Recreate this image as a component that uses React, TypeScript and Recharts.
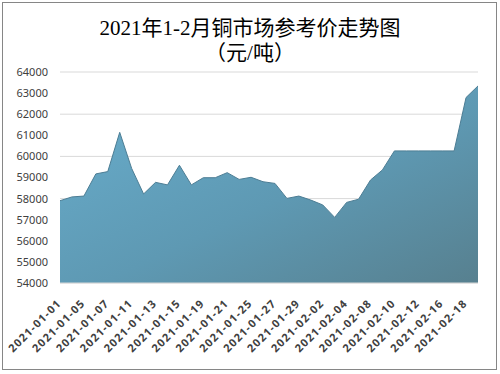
import React from 'react';
import { AreaChart, Area, XAxis, YAxis, CartesianGrid } from 'recharts';

const dates = [
  '2021-01-01', '2021-01-04', '2021-01-05', '2021-01-06', '2021-01-07', '2021-01-08',
  '2021-01-11', '2021-01-12', '2021-01-13', '2021-01-14', '2021-01-15', '2021-01-18',
  '2021-01-19', '2021-01-20', '2021-01-21', '2021-01-22', '2021-01-25', '2021-01-26',
  '2021-01-27', '2021-01-28', '2021-01-29', '2021-02-01', '2021-02-02', '2021-02-03',
  '2021-02-04', '2021-02-05', '2021-02-08', '2021-02-09', '2021-02-10', '2021-02-11',
  '2021-02-12', '2021-02-15', '2021-02-16', '2021-02-17', '2021-02-18', '2021-02-19',
];

const prices = [
  57900, 58080, 58120, 59170, 59280, 61140,
  59430, 58220, 58770, 58650, 59580, 58650,
  58990, 58990, 59230, 58910, 59010, 58800,
  58720, 58010, 58120, 57930, 57700, 57110,
  57820, 57970, 58880, 59360, 60260, 60260,
  60260, 60260, 60260, 60260, 62790, 63340,
];

const yTicks = [54000, 55000, 56000, 57000, 58000, 59000, 60000, 61000, 62000, 63000, 64000];

const data = dates.map((date, i) => ({ date, price: prices[i] }));

// rotated date labels, right end sits just under the tick
const DateTick = ({ x, y, payload }: any) => (
  <g transform={`translate(${x + 2},${y + 13})`}>
    <text
      x={0}
      y={0}
      textAnchor="end"
      transform="rotate(-45)"
      fontSize={11}
      fontWeight="bold"
      letterSpacing={1.2}
      fill="#404040"
      fontFamily="'Noto Sans', sans-serif"
    >
      {payload.value}
    </text>
  </g>
);

const App = () => {
  return (
    <div
      style={{
        position: 'absolute',
        left: 0,
        top: 0,
        width: 500,
        height: 374,
        background: '#fff',
      }}
    >
      <div
        style={{
          position: 'absolute',
          left: 2,
          top: 2,
          width: 493,
          height: 366,
          border: '1px solid #868686',
        }}
      />
      <div
        style={{
          position: 'absolute',
          left: 0,
          top: 16,
          width: 500,
          textAlign: 'center',
          fontFamily: "'Liberation Serif', 'Noto Sans CJK SC', serif",
          fontSize: 21,
          lineHeight: '25px',
          color: '#000',
        }}
      >
        <div>2021年1-2月铜市场参考价走势图</div>
        <div>（元/吨）</div>
      </div>
      <AreaChart
        width={500}
        height={374}
        data={data}
        margin={{ top: 72, right: 22, left: 0, bottom: 0 }}
        style={{ position: 'absolute', left: 0, top: 0 }}
      >
        <defs>
          <linearGradient id="fillGrad" x1="0" y1="0" x2="1" y2="1">
            <stop offset="0%" stopColor="#69aecd" />
            <stop offset="55%" stopColor="#5e99b3" />
            <stop offset="100%" stopColor="#57808f" />
          </linearGradient>
        </defs>
        <CartesianGrid vertical={false} stroke="#d9d9d9" />
        <XAxis
          dataKey="date"
          interval={1}
          height={91}
          tickLine={false}
          axisLine={{ stroke: '#d9d9d9' }}
          tick={<DateTick />}
        />
        <YAxis
          domain={[54000, 64000]}
          ticks={yTicks}
          width={60}
          tickSize={0}
          tickMargin={12}
          axisLine={false}
          tickLine={false}
          tick={{ fontSize: 11, fill: '#404040', fontFamily: "'Noto Sans', sans-serif" }}
        />
        <Area
          type="linear"
          dataKey="price"
          stroke="#4c7d94"
          strokeWidth={1}
          fill="url(#fillGrad)"
          fillOpacity={1}
          isAnimationActive={false}
        />
      </AreaChart>
    </div>
  );
};

export default App;
